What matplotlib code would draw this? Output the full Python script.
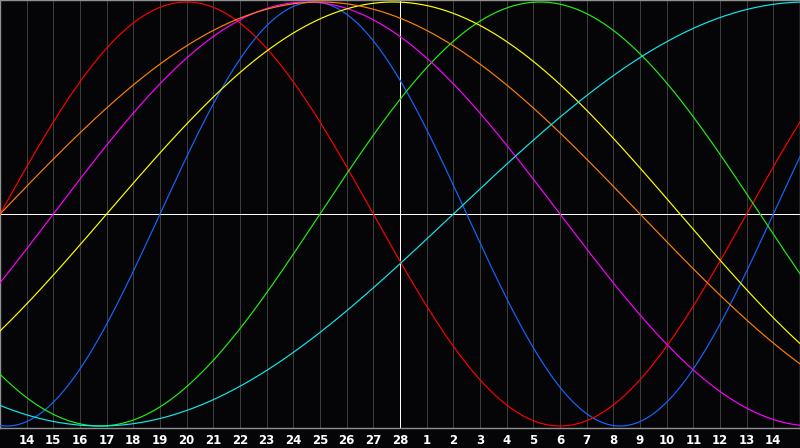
import numpy as np
import matplotlib
matplotlib.use("Agg")
import matplotlib.pyplot as plt

# day labels along the bottom (13th .. 15th, only 14..14 are labelled)
day_labels = list(range(14, 29)) + list(range(1, 15))
n_days = 30          # chart spans 30 days, one grid line per day
today = 15           # white vertical marker under "28"

# biorhythm cycles: period in days, day where the cycle crosses zero going up
cycle_names = ["physical", "emotional", "intellectual", "intuitive",
               "aesthetic", "awareness", "spiritual"]
cycle_periods = [23, 28, 33, 38, 43, 48, 53]
cycle_zero_day = [6, 0, 12, 2, 4, 0, 17]
cycle_colors = ["#1466ff", "#ff0000", "#22ee11", "#ff00ff",
                "#ffff00", "#ff8000", "#11e8ee"]

bg = "#050508"
px = 0.72  # one pixel in points at 100 dpi

fig = plt.figure(figsize=(8, 4.48), dpi=100, facecolor=bg)
ax = fig.add_axes([0, 20 / 448, 1, 428 / 448], facecolor=bg)

# day grid
for k in range(1, n_days):
    ax.axvline(k, color="#3c3c3c", lw=px, zorder=1, antialiased=False)

t = np.linspace(0, n_days, 1201)
for name, p, z, c in zip(cycle_names, cycle_periods, cycle_zero_day, cycle_colors):
    ax.plot(t, np.sin(2 * np.pi * (t - z) / p), color=c, lw=0.85,
            zorder=3, label=name)

ax.axhline(0, color="white", lw=px, zorder=2, antialiased=False)
ax.axvline(today, color="white", lw=px, zorder=2, antialiased=False)

ax.set_xlim(0, n_days)
ax.set_ylim(-1.0094, 1.0094)
ax.set_yticks([])
ax.set_xticks(range(1, n_days))
ax.set_xticklabels([str(d) for d in day_labels], color="white",
                   fontsize=8.5, fontweight="bold", family="DejaVu Sans")
ax.tick_params(axis="x", length=0, pad=4.5)
for s in ax.spines.values():
    s.set_color("#909090")
    s.set_linewidth(1.0)

fig.savefig("out.png", dpi=100, facecolor=bg)
